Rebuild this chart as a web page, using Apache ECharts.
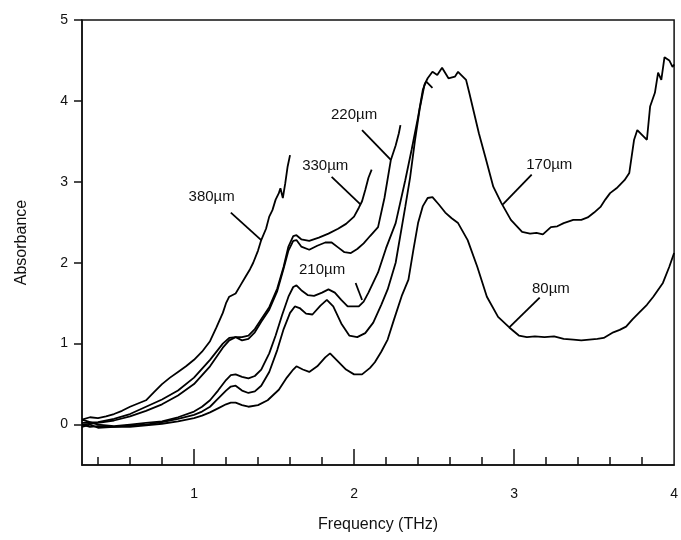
<!DOCTYPE html>
<html>
<head>
<meta charset="utf-8">
<script src="https://cdn.jsdelivr.net/npm/echarts@6/dist/echarts.min.js"></script>
<style>
  html, body { margin: 0; padding: 0; background: #fff; }
  #chart { width: 681px; height: 540px; }
</style>
</head>
<body>
<div id="chart"></div>
<script>
// absorbance spectra, [frequency THz, absorbance]
const s380 = [[0.30,0.06],[0.35,0.09],[0.40,0.08],[0.45,0.10],[0.50,0.13],[0.55,0.17],[0.60,0.22],[0.65,0.26],[0.70,0.30],[0.75,0.40],[0.80,0.50],[0.85,0.58],[0.90,0.65],[0.95,0.72],[1.00,0.80],[1.05,0.90],[1.10,1.03],[1.14,1.20],[1.18,1.38],[1.20,1.50],[1.22,1.58],[1.26,1.62],[1.29,1.72],[1.32,1.82],[1.35,1.92],[1.37,2.00],[1.40,2.15],[1.42,2.28],[1.45,2.42],[1.47,2.57],[1.49,2.65],[1.51,2.78],[1.53,2.86],[1.54,2.92],[1.555,2.80],[1.57,2.98],[1.585,3.19],[1.60,3.33]];
const s330 = [[0.30,0.02],[0.40,0.03],[0.50,0.07],[0.60,0.13],[0.70,0.22],[0.80,0.31],[0.90,0.42],[1.00,0.58],[1.10,0.80],[1.18,1.00],[1.22,1.07],[1.26,1.08],[1.30,1.08],[1.34,1.10],[1.38,1.18],[1.42,1.30],[1.47,1.45],[1.52,1.68],[1.56,1.95],[1.59,2.20],[1.62,2.33],[1.64,2.34],[1.67,2.29],[1.72,2.27],[1.78,2.31],[1.84,2.36],[1.90,2.42],[1.95,2.48],[2.00,2.57],[2.03,2.68],[2.05,2.76],[2.07,2.90],[2.09,3.05],[2.11,3.15]];
const s220 = [[0.30,0.00],[0.40,0.02],[0.50,0.05],[0.60,0.10],[0.70,0.17],[0.80,0.25],[0.90,0.36],[1.00,0.50],[1.10,0.72],[1.18,0.95],[1.22,1.04],[1.26,1.08],[1.30,1.04],[1.34,1.06],[1.38,1.14],[1.42,1.27],[1.47,1.42],[1.52,1.65],[1.56,1.93],[1.59,2.15],[1.62,2.27],[1.64,2.28],[1.67,2.20],[1.72,2.16],[1.77,2.21],[1.82,2.25],[1.86,2.25],[1.90,2.19],[1.94,2.13],[1.98,2.12],[2.02,2.17],[2.06,2.24],[2.10,2.33],[2.15,2.44],[2.19,2.80],[2.23,3.27],[2.26,3.45],[2.28,3.60],[2.29,3.70]];
const s210 = [[0.30,0.06],[0.35,0.03],[0.40,0.00],[0.50,-0.02],[0.60,0.00],[0.70,0.02],[0.80,0.04],[0.90,0.09],[1.00,0.16],[1.05,0.22],[1.10,0.30],[1.15,0.42],[1.20,0.55],[1.23,0.61],[1.26,0.62],[1.30,0.59],[1.34,0.57],[1.38,0.60],[1.42,0.68],[1.47,0.88],[1.51,1.10],[1.55,1.35],[1.59,1.58],[1.62,1.70],[1.64,1.72],[1.67,1.66],[1.71,1.60],[1.75,1.59],[1.80,1.63],[1.84,1.67],[1.88,1.63],[1.92,1.54],[1.96,1.46],[2.03,1.46],[2.06,1.52],[2.09,1.63],[2.15,1.88],[2.20,2.18],[2.26,2.49],[2.32,3.02],[2.36,3.40],[2.40,3.80],[2.43,4.14],[2.45,4.24],[2.49,4.16]];
const s170 = [[0.30,0.00],[0.35,-0.03],[0.40,-0.02],[0.50,-0.03],[0.60,-0.01],[0.70,0.00],[0.80,0.03],[0.90,0.07],[1.00,0.12],[1.05,0.16],[1.10,0.22],[1.15,0.32],[1.20,0.42],[1.23,0.47],[1.26,0.48],[1.30,0.42],[1.34,0.39],[1.38,0.41],[1.42,0.48],[1.47,0.65],[1.52,0.92],[1.56,1.18],[1.60,1.38],[1.63,1.46],[1.66,1.44],[1.70,1.37],[1.74,1.36],[1.79,1.47],[1.83,1.54],[1.87,1.46],[1.92,1.25],[1.97,1.10],[2.02,1.08],[2.07,1.13],[2.12,1.26],[2.17,1.48],[2.21,1.67],[2.26,2.00],[2.32,2.69],[2.35,3.05],[2.38,3.50],[2.41,3.90],[2.44,4.20],[2.46,4.28],[2.49,4.36],[2.52,4.32],[2.55,4.41],[2.59,4.28],[2.63,4.30],[2.65,4.36],[2.67,4.32],[2.70,4.26],[2.72,4.10],[2.75,3.85],[2.78,3.60],[2.82,3.31],[2.87,2.94],[2.92,2.74],[2.98,2.53],[3.05,2.38],[3.10,2.36],[3.14,2.37],[3.18,2.35],[3.23,2.44],[3.27,2.45],[3.31,2.49],[3.37,2.53],[3.42,2.53],[3.46,2.56],[3.50,2.62],[3.54,2.69],[3.57,2.78],[3.60,2.86],[3.64,2.92],[3.69,3.02],[3.72,3.11],[3.75,3.52],[3.77,3.64],[3.81,3.56],[3.83,3.52],[3.85,3.93],[3.88,4.10],[3.90,4.35],[3.92,4.26],[3.94,4.54],[3.97,4.50],[3.99,4.42],[4.00,4.45]];
const s80 = [[0.30,-0.03],[0.35,0.00],[0.40,-0.04],[0.50,-0.03],[0.60,-0.03],[0.70,-0.01],[0.80,0.01],[0.90,0.04],[1.00,0.08],[1.05,0.11],[1.10,0.15],[1.15,0.20],[1.20,0.25],[1.23,0.27],[1.26,0.27],[1.30,0.24],[1.34,0.22],[1.40,0.24],[1.46,0.30],[1.53,0.43],[1.58,0.58],[1.62,0.68],[1.64,0.72],[1.68,0.68],[1.72,0.65],[1.77,0.72],[1.82,0.83],[1.85,0.88],[1.89,0.80],[1.95,0.68],[2.00,0.62],[2.05,0.62],[2.10,0.70],[2.13,0.77],[2.17,0.90],[2.21,1.05],[2.25,1.30],[2.30,1.60],[2.34,1.79],[2.37,2.15],[2.40,2.49],[2.43,2.70],[2.46,2.80],[2.49,2.81],[2.53,2.72],[2.57,2.62],[2.61,2.55],[2.65,2.49],[2.71,2.28],[2.77,1.95],[2.83,1.58],[2.90,1.33],[2.97,1.20],[3.03,1.10],[3.08,1.08],[3.13,1.09],[3.19,1.08],[3.25,1.09],[3.31,1.06],[3.37,1.05],[3.42,1.04],[3.47,1.05],[3.52,1.06],[3.56,1.07],[3.62,1.14],[3.66,1.17],[3.70,1.21],[3.74,1.30],[3.78,1.38],[3.83,1.48],[3.87,1.58],[3.93,1.75],[3.97,1.95],[4.00,2.12]];

const curves = [s380, s330, s220, s210, s170, s80];

// tick positions
const xLabels = [1, 2, 3, 4];
const xMajor = [1, 2, 3];
const xMinor = [0.4, 0.6, 0.8, 1.2, 1.4, 1.6, 1.8, 2.2, 2.4, 2.6, 2.8, 3.2, 3.4, 3.6, 3.8];
const yTicks = [0, 1, 2, 3, 4, 5];

// callouts: text, text centre, leader line from -> to (data coords)
const notes = [
  ['380\u00b5m', [1.11, 2.81], [1.23, 2.62], [1.42, 2.28]],
  ['330\u00b5m', [1.82, 3.20], [1.86, 3.06], [2.04, 2.72]],
  ['220\u00b5m', [2.00, 3.83], [2.05, 3.64], [2.23, 3.27]],
  ['210\u00b5m', [1.80, 1.91], [2.01, 1.75], [2.05, 1.54]],
  ['170\u00b5m', [3.22, 3.21], [3.11, 3.09], [2.93, 2.72]],
  ['80\u00b5m', [3.23, 1.68], [3.16, 1.57], [2.97, 1.20]]
];

const font = '"Liberation Sans", Arial, sans-serif';
const ink = '#111';

const chart = echarts.init(document.getElementById('chart'));
const option = {
  animation: false,
  grid: {
    left: 82, right: 3, top: 20, bottom: 75,
    show: true, borderColor: ink, borderWidth: 1.5
  },
  xAxis: [
    {
      type: 'value', min: 0.3, max: 4, position: 'bottom',
      name: 'Frequency (THz)', nameLocation: 'middle', nameGap: 52,
      nameTextStyle: { fontFamily: font, fontSize: 16, color: ink },
      axisLine: { onZero: false, lineStyle: { color: ink, width: 1.5 } },
      axisTick: { inside: true, length: 16, customValues: xMajor, lineStyle: { color: ink, width: 1.5 } },
      axisLabel: { customValues: xLabels, margin: 22, fontFamily: font, fontSize: 14, color: ink },
      splitLine: { show: false }
    },
    {
      type: 'value', min: 0.3, max: 4, position: 'bottom',
      axisLine: { show: false, onZero: false },
      axisTick: { inside: true, length: 8, customValues: xMinor, lineStyle: { color: ink, width: 1.5 } },
      axisLabel: { show: false },
      splitLine: { show: false }
    }
  ],
  yAxis: {
    type: 'value', min: -0.5, max: 5,
    name: 'Absorbance', nameLocation: 'middle', nameGap: 52, nameRotate: 90,
    nameTextStyle: { fontFamily: font, fontSize: 16, color: ink },
    axisLine: { show: true, onZero: false, lineStyle: { color: ink, width: 1.5 } },
    axisTick: { show: true, length: 8, customValues: yTicks, lineStyle: { color: ink, width: 1.5 } },
    axisLabel: { customValues: yTicks, margin: 14, fontFamily: font, fontSize: 14, color: ink },
    splitLine: { show: false }
  },
  series: curves.map(d => ({
    type: 'line',
    data: d,
    showSymbol: false,
    lineStyle: { color: '#000', width: 1.8 },
    silent: true
  }))
};
chart.setOption(option);

// callout text and leader lines, placed through the grid's own scale
const px = p => chart.convertToPixel({ gridIndex: 0 }, p);
const graphics = [];
notes.forEach(n => {
  const t = px(n[1]), a = px(n[2]), b = px(n[3]);
  graphics.push({
    type: 'text', x: t[0], y: t[1],
    style: { text: n[0], fill: ink, font: '15px ' + font, textAlign: 'center', textVerticalAlign: 'middle' }
  });
  graphics.push({
    type: 'line', shape: { x1: a[0], y1: a[1], x2: b[0], y2: b[1] },
    style: { stroke: '#000', lineWidth: 1.8 }
  });
});
chart.setOption({ graphic: graphics });
</script>
</body>
</html>
